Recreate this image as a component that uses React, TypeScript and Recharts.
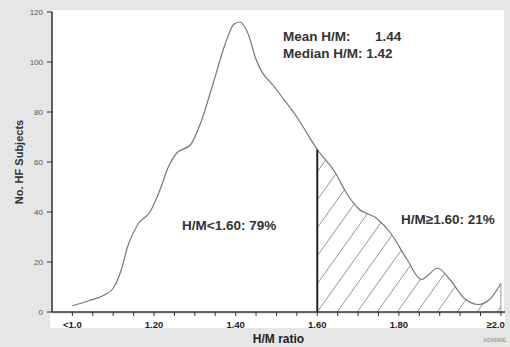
import {
  ComposedChart,
  Line,
  Area,
  XAxis,
  YAxis,
  ReferenceLine,
  Label,
} from "recharts";

const hmRatio = [
  1.0, 1.04, 1.08, 1.1, 1.12, 1.135, 1.16, 1.19, 1.215, 1.235, 1.255, 1.29,
  1.315, 1.345, 1.375, 1.395, 1.41, 1.43, 1.45, 1.5, 1.55, 1.6, 1.645, 1.67,
  1.7, 1.745, 1.78, 1.82, 1.855, 1.895, 1.925, 1.96, 1.995, 2.025, 2.05,
];
const subjects = [
  2.5, 4.5, 7, 9.5, 17, 26, 35, 40, 49, 58, 63.5, 67, 76, 91.5, 107.5, 115,
  116, 111.5, 101, 89, 78, 65, 55.5, 48, 41.5, 37.5, 31.5, 21, 13, 17.5, 13,
  5.5, 3, 5.5, 11.5,
];
const xTicks = [
  1.0, 1.05, 1.1, 1.15, 1.2, 1.25, 1.3, 1.35, 1.4, 1.45, 1.5, 1.55, 1.6, 1.65,
  1.7, 1.75, 1.8, 1.85, 1.9, 1.95, 2.0, 2.05,
];
const xTickLabels: Record<string, string> = {
  "1.00": "<1.0",
  "1.20": "1.20",
  "1.40": "1.40",
  "1.60": "1.60",
  "1.80": "1.80",
  "2.05": "≥2.0",
};
const yTicks = [0, 20, 40, 60, 80, 100, 120];
const cutoff = 1.6;

const data = hmRatio.map((x, i) => ({
  x,
  n: subjects[i],
  tail: x >= cutoff ? subjects[i] : null,
}));

const font = "'Liberation Sans', Arial, sans-serif";

const textStyle = {
  position: "absolute" as const,
  fontFamily: font,
  fontWeight: 700,
  fontSize: 13.5,
  color: "#333",
  whiteSpace: "pre" as const,
  lineHeight: 1,
};

const XTick = (props: any) => {
  const { x, y, payload } = props;
  const key = Number(payload.value).toFixed(2);
  const label = xTickLabels[key];
  if (!label) return null;
  const last = key === "2.05";
  return (
    <text
      x={last ? x + 4 : x}
      y={y + 10}
      textAnchor={last ? "end" : "middle"}
      fontSize={9.5}
      fontWeight={700}
      fill="#222"
      fontFamily={font}
    >
      {label}
    </text>
  );
};

export default function App() {
  return (
    <div
      style={{
        position: "absolute",
        left: 0,
        top: 0,
        width: 510,
        height: 347,
        background: "#e6e6e6",
        overflow: "hidden",
      }}
    >
      <div style={{ position: "absolute", left: 53, top: 10, width: 451, height: 302, background: "#fff" }} />
      <div style={{ position: "absolute", left: 50, top: 314, width: 455, height: 14, background: "#fff" }} />

      <div style={{ position: "absolute", left: 0, top: 0 }}>
        <ComposedChart
          width={510}
          height={347}
          data={data}
          margin={{ top: 12, right: 5, bottom: 0, left: 0 }}
        >
          <defs>
            <pattern id="hatch" patternUnits="userSpaceOnUse" width="20" height="28">
              <path d="M0,28 L20,0 M-5,7 L5,-7 M15,35 L25,21" stroke="#777" strokeWidth="0.8" />
            </pattern>
          </defs>
          <XAxis
            dataKey="x"
            type="number"
            domain={[0.95, 2.06]}
            ticks={xTicks}
            interval={0}
            height={35}
            tickSize={4}
            axisLine={{ stroke: "#333", strokeWidth: 1.5 }}
            tickLine={{ stroke: "#333" }}
            tick={<XTick />}
          >
            <Label
              value="H/M ratio"
              position="insideBottom"
              offset={4}
              style={{ fontSize: 12, fontWeight: 700, fill: "#222", fontFamily: font }}
            />
          </XAxis>
          <YAxis
            type="number"
            domain={[0, 120]}
            ticks={yTicks}
            width={52}
            tickSize={5}
            tickMargin={4}
            axisLine={{ stroke: "#333", strokeWidth: 1.5 }}
            tickLine={{ stroke: "#333" }}
            tick={{ fontSize: 8, fill: "#555", fontFamily: font }}
          >
            <Label
              value="No. HF Subjects"
              angle={-90}
              position="center"
              dx={-7}
              style={{ fontSize: 11, fontWeight: 700, fill: "#333", fontFamily: font, textAnchor: "middle" }}
            />
          </YAxis>
          <Area
            dataKey="tail"
            type="monotone"
            fill="url(#hatch)"
            fillOpacity={1}
            stroke="none"
            baseValue={0}
            isAnimationActive={false}
            connectNulls={false}
          />
          <Line
            dataKey="n"
            type="monotone"
            stroke="#777"
            strokeWidth={1.2}
            dot={false}
            isAnimationActive={false}
          />
          <ReferenceLine
            segment={[{ x: cutoff, y: 0 }, { x: cutoff, y: 65 }]}
            stroke="#222"
            strokeWidth={2}
          />
          <ReferenceLine
            segment={[{ x: 2.05, y: 0 }, { x: 2.05, y: 11.5 }]}
            stroke="#999"
            strokeWidth={1}
          />
        </ComposedChart>
      </div>

      <div style={{ ...textStyle, left: 283, top: 30 }}>Mean H/M:</div>
      <div style={{ ...textStyle, left: 375, top: 30 }}>1.44</div>
      <div style={{ ...textStyle, left: 283, top: 47 }}>Median H/M: 1.42</div>
      <div style={{ ...textStyle, left: 182, top: 219 }}>H/M&lt;1.60: 79%</div>
      <div style={{ ...textStyle, left: 401, top: 213 }}>H/M≥1.60: 21%</div>
      <div
        style={{
          position: "absolute",
          left: 483,
          top: 337,
          fontFamily: font,
          fontSize: 6,
          color: "#888",
          whiteSpace: "pre",
        }}
      >
        ADMIRE
      </div>
    </div>
  );
}
